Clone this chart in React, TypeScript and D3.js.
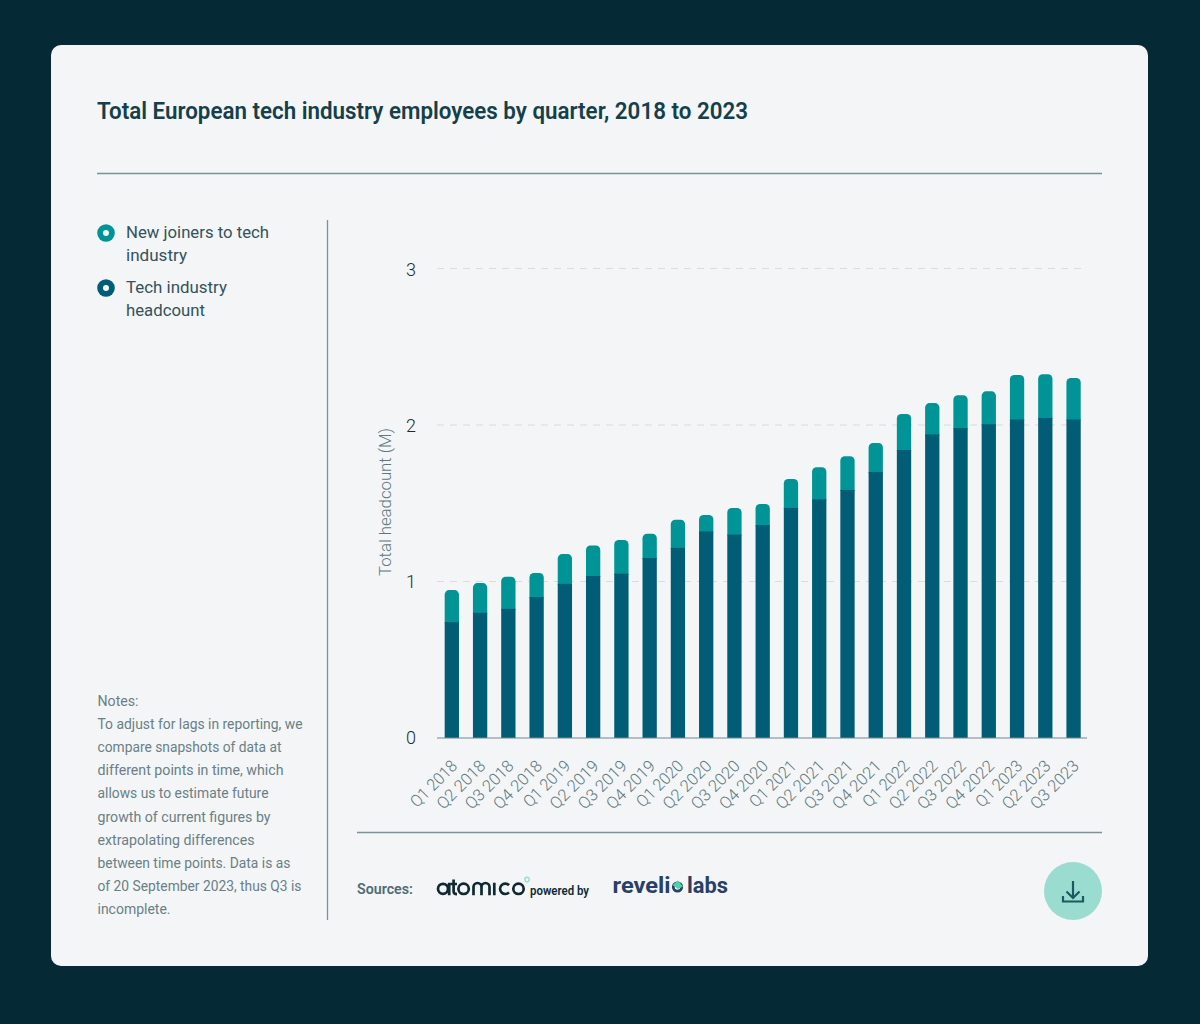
import React, { useRef, useEffect } from "react";
import * as d3 from "d3";

const quarters = [
  "Q1 2018", "Q2 2018", "Q3 2018", "Q4 2018",
  "Q1 2019", "Q2 2019", "Q3 2019", "Q4 2019",
  "Q1 2020", "Q2 2020", "Q3 2020", "Q4 2020",
  "Q1 2021", "Q2 2021", "Q3 2021", "Q4 2021",
  "Q1 2022", "Q2 2022", "Q3 2022", "Q4 2022",
  "Q1 2023", "Q2 2023", "Q3 2023",
];
// millions
const headcount = [
  0.74, 0.8, 0.825, 0.9, 0.985, 1.035, 1.05, 1.15, 1.215, 1.32, 1.3, 1.36,
  1.47, 1.525, 1.585, 1.7, 1.84, 1.94, 1.98, 2.005, 2.035, 2.045, 2.035,
];
const newJoiners = [
  0.205, 0.19, 0.205, 0.155, 0.19, 0.195, 0.215, 0.155, 0.18, 0.105, 0.17, 0.135,
  0.185, 0.205, 0.215, 0.185, 0.23, 0.2, 0.21, 0.21, 0.285, 0.28, 0.265,
];
const yTicks = [0, 1, 2, 3];

// [line, width as measured in the reference]
const legendLines: [string, number, number][] = [
  ["New joiners to tech", 143, 238],
  ["industry", 61, 261],
  ["Tech industry", 101, 293],
  ["headcount", 79, 316],
];
const noteLines: [string, number][] = [
  ["Notes:", 41],
  ["To adjust for lags in reporting, we", 205],
  ["compare snapshots of data at", 184],
  ["different points in time, which", 186],
  ["allows us to estimate future", 171],
  ["growth of current figures by", 173],
  ["extrapolating differences", 157],
  ["between time points. Data is as", 193],
  ["of 20 September 2023, thus Q3 is", 204],
  ["incomplete.", 73],
];

const FONT = "Roboto, sans-serif";
const DARK = "#005d75";
const TEAL = "#009496";
const MINT = "#9bdcd0";
const RULE = "#7a9298";
const INK = "#0e2a33";
const NAVY = "#2a3f66";

export default function App() {
  const svgRef = useRef<SVGSVGElement>(null);

  useEffect(() => {
    const svg = d3.select(svgRef.current);
    svg.selectAll("*").remove();

    const label = (
      txt: string,
      x: number,
      y: number,
      size: number,
      weight: number,
      fill: string,
      width?: number
    ) => {
      const t = svg
        .append("text")
        .attr("x", x)
        .attr("y", y)
        .attr("font-family", FONT)
        .attr("font-size", size)
        .attr("font-weight", weight)
        .attr("fill", fill)
        .text(txt);
      if (width) t.attr("textLength", width).attr("lengthAdjust", "spacingAndGlyphs");
      return t;
    };

    // card
    svg.append("rect").attr("width", 1200).attr("height", 1024).attr("fill", "#052a35");
    svg
      .append("rect")
      .attr("x", 51)
      .attr("y", 45)
      .attr("width", 1097)
      .attr("height", 921)
      .attr("rx", 10)
      .attr("fill", "#f3f5f7");

    label(
      "Total European tech industry employees by quarter, 2018 to 2023",
      97, 118.5, 23, 600, "#153f4a", 651
    );

    const rule = (x1: number, y1: number, x2: number, y2: number) =>
      svg
        .append("line")
        .attr("x1", x1)
        .attr("y1", y1)
        .attr("x2", x2)
        .attr("y2", y2)
        .attr("stroke", RULE)
        .attr("stroke-width", 1.3);
    rule(97, 173.5, 1102, 173.5);
    rule(327.5, 220, 327.5, 920);
    rule(357, 832.5, 1102, 832.5);

    // legend
    [
      { color: TEAL, cy: 233 },
      { color: DARK, cy: 288 },
    ].forEach((d) => {
      svg.append("circle").attr("cx", 106).attr("cy", d.cy).attr("r", 8.8).attr("fill", d.color);
      svg.append("circle").attr("cx", 106).attr("cy", d.cy).attr("r", 3).attr("fill", "#f3f5f7");
    });
    legendLines.forEach(([txt, w, y]) => label(txt, 126, y, 17, 400, "#34525b", w));

    // notes
    noteLines.forEach(([txt, w], i) =>
      label(txt, 97.5, 706 + i * 23.1, 14, 400, "#6a7f86", w)
    );

    // chart
    const x = d3
      .scaleBand<string>()
      .domain(quarters)
      .range([437.7, 1087.7])
      .paddingInner(0.494)
      .paddingOuter(0.247);
    const y = d3.scaleLinear().domain([0, 3]).range([738, 268.5]);

    const grid = svg.append("g");
    grid
      .selectAll("line")
      .data(yTicks.filter((d) => d > 0))
      .join("line")
      .attr("x1", 437)
      .attr("x2", 1087)
      .attr("y1", (d) => y(d))
      .attr("y2", (d) => y(d))
      .attr("stroke", "#d8dee0")
      .attr("stroke-width", 1.2)
      .attr("stroke-dasharray", "7 6");

    const rows = quarters.map((q, i) => ({
      quarter: q,
      headcount: headcount[i],
      newJoiners: newJoiners[i],
    }));
    const stacked = d3.stack<any>().keys(["headcount", "newJoiners"])(rows);

    // top segment first with rounded upper corners, it runs a bit under the
    // dark one so no light seam shows between them
    const r = 4.5;
    svg
      .append("g")
      .selectAll("path")
      .data(stacked[1])
      .join("path")
      .attr("d", (d) => {
        const x0 = x(d.data.quarter)!;
        const x1 = x0 + x.bandwidth();
        const top = y(d[1]);
        const bottom = y(d[0]) + 1;
        const p = d3.path();
        p.moveTo(x0, bottom);
        p.lineTo(x0, top + r);
        p.arcTo(x0, top, x0 + r, top, r);
        p.lineTo(x1 - r, top);
        p.arcTo(x1, top, x1, top + r, r);
        p.lineTo(x1, bottom);
        p.closePath();
        return p.toString();
      })
      .attr("fill", TEAL);

    svg
      .append("g")
      .selectAll("rect")
      .data(stacked[0])
      .join("rect")
      .attr("x", (d) => x(d.data.quarter)!)
      .attr("width", x.bandwidth())
      .attr("y", (d) => y(d[1]))
      .attr("height", (d) => y(d[0]) - y(d[1]))
      .attr("fill", DARK);

    // y axis
    const yAxis = svg
      .append("g")
      .attr("transform", "translate(437,0)")
      .call(d3.axisLeft(y).tickValues(yTicks).tickSize(0).tickPadding(21).tickFormat(d3.format("d")));
    yAxis.select(".domain").remove();
    yAxis
      .selectAll<SVGTextElement, number>("text")
      .attr("y", (d) => (d === 3 ? 1.6 : d === 0 ? 0 : 0.4))
      .attr("font-family", FONT)
      .attr("font-size", 18)
      .attr("font-weight", 300)
      .attr("fill", "#1d2b30");

    // x axis
    const xAxis = svg
      .append("g")
      .attr("transform", "translate(0,738)")
      .call(d3.axisBottom(x).tickSize(0).tickSizeOuter(0));
    xAxis.select(".domain").attr("stroke", "#6f8a91").attr("stroke-width", 1.2).attr("d", "M437,0H1087");
    xAxis
      .selectAll<SVGTextElement, string>("text")
      .attr("font-family", FONT)
      .attr("font-size", 16.5)
      .attr("font-weight", 300)
      .attr("fill", "#5f787f")
      .attr("text-anchor", "end")
      .attr("dy", 0)
      .attr("y", 0)
      .attr("textLength", (d) => (d.startsWith("Q1") ? 58.5 : 61))
      .attr("lengthAdjust", "spacingAndGlyphs")
      .attr("transform", "translate(6.5,29) rotate(-45)");

    label("Total headcount (M)", 0, 0, 16.5, 300, "#5f787f", 148)
      .attr("x", null)
      .attr("y", null)
      .attr("text-anchor", "middle")
      .attr("transform", "translate(391,502) rotate(-90)");

    // footer
    label("Sources:", 357, 894, 14, 600, "#4f6b75", 56);

    // atomico wordmark
    svg
      .append("path")
      .attr(
        "d",
        [
          "M438,888.8a5,5 0 1 0 10,0a5,5 0 1 0 -10,0M449.2,882.8V895.2",
          "M453.6,879.4V891.5q0,2.6 3.4,2.6M450.6,884H457",
          "M458.4,888.8a5.2,5.2 0 1 0 10.4,0a5.2,5.2 0 1 0 -10.4,0",
          "M473.5,895.2V887a4,4 0 0 1 8,0V895.2M481.5,887a4,4 0 0 1 8,0V895.2",
          "M494.3,882.8V895.2",
          "M509,885.2a5.2,5.2 0 1 0 0,7.2",
          "M513.3,888.8a5.2,5.2 0 1 0 10.4,0a5.2,5.2 0 1 0 -10.4,0",
        ].join("")
      )
      .attr("fill", "none")
      .attr("stroke", INK)
      .attr("stroke-width", 2.7);
    svg
      .append("circle")
      .attr("cx", 527)
      .attr("cy", 879.5)
      .attr("r", 2.2)
      .attr("fill", "none")
      .attr("stroke", MINT)
      .attr("stroke-width", 1.4);
    label("powered by", 530, 895, 12, 600, INK, 59);

    // revelio labs wordmark
    label("reveli", 612.5, 893, 22, 700, NAVY, 58);
    svg
      .append("circle")
      .attr("cx", 677.5)
      .attr("cy", 887)
      .attr("r", 4.2)
      .attr("fill", "none")
      .attr("stroke", NAVY)
      .attr("stroke-width", 2.8);
    svg.append("path").attr("d", "M672.5,885L678,880.5L683,886.5L678,889Z").attr("fill", "#4fd0a5");
    label("labs", 687, 893, 22, 700, NAVY, 41);

    // download button
    svg.append("circle").attr("cx", 1073).attr("cy", 891).attr("r", 29).attr("fill", MINT);
    svg
      .append("path")
      .attr("d", "M1073,881V898M1066.5,891.5L1073,898L1079.5,891.5M1063,896V901.5H1083V896")
      .attr("fill", "none")
      .attr("stroke", "#1b5a60")
      .attr("stroke-width", 2.2);
  }, []);

  return (
    <svg
      ref={svgRef}
      width={1200}
      height={1024}
      style={{ position: "absolute", left: 0, top: 0, display: "block" }}
    />
  );
}
